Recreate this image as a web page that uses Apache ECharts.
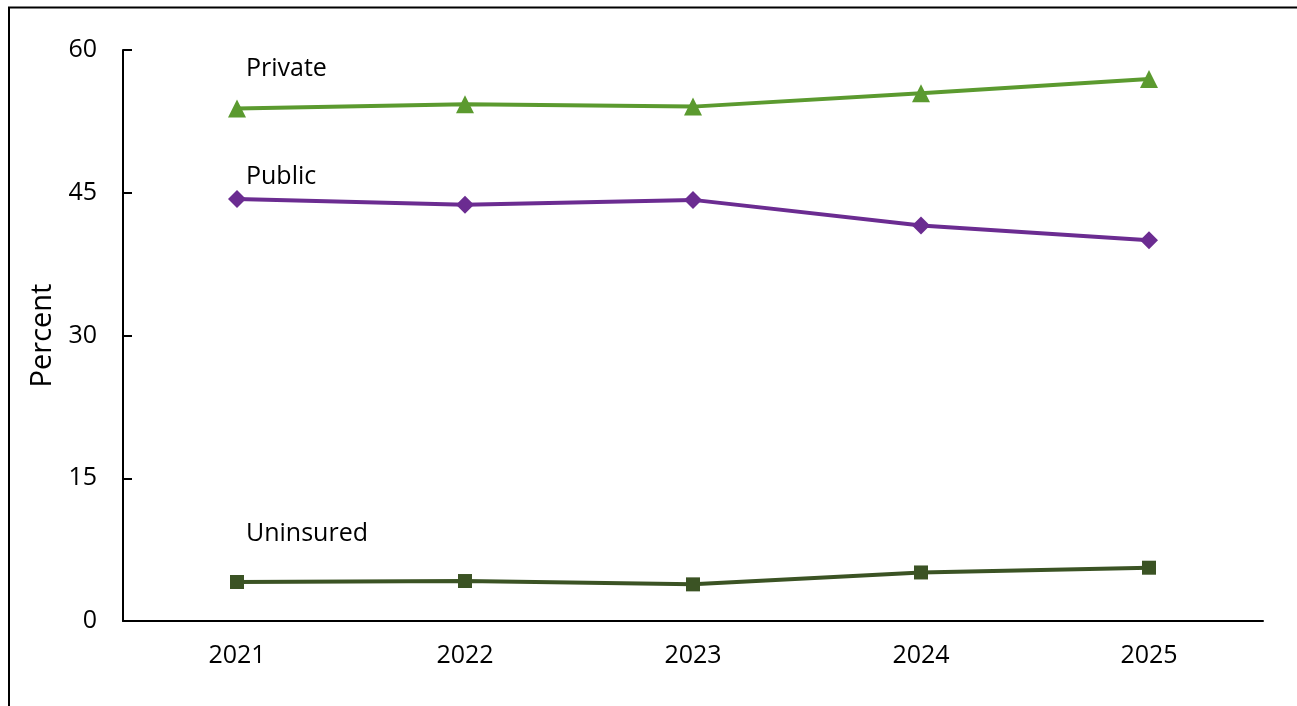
<!DOCTYPE html>
<html>
<head>
<meta charset="utf-8">
<title>Health insurance coverage, 2021–2025</title>
<script src="https://cdn.jsdelivr.net/npm/echarts@6/dist/echarts.min.js"></script>
<style>
  html, body { margin: 0; padding: 0; background: #ffffff; }
  #chart { width: 1297px; height: 706px; }
</style>
</head>
<body>
<div id="chart"></div>
<script>
// Share of people by coverage type, percent
const years = ['2021', '2022', '2023', '2024', '2025'];
const privateCoverage = [53.85, 54.3, 54.05, 55.45, 56.95];
const publicCoverage = [44.35, 43.75, 44.25, 41.55, 40.0];
const uninsured = [4.1, 4.2, 3.85, 5.1, 5.6];
const yTicks = [0, 15, 30, 45, 60];

const FONT = '"Open Sans", "Noto Sans", sans-serif';

function seriesLabel(name, offsetY, distance) {
  return {
    show: true,
    position: 'right',
    distance: distance,
    offset: [0, offsetY],
    formatter: name,
    color: '#000',
    fontFamily: FONT,
    fontSize: 25
  };
}

function buildData(values, name, offsetY, distance) {
  return values.map((v, i) => i === 0 ? { value: v, label: seriesLabel(name, offsetY, distance) } : v);
}

const chart = echarts.init(document.getElementById('chart'), null, { renderer: 'canvas' });

chart.setOption({
  animation: false,
  backgroundColor: '#ffffff',
  graphic: [
    {
      type: 'polyline',
      shape: { points: [[9, 720], [9, 7.5], [1310, 7.5]] },
      style: { stroke: '#000', lineWidth: 2, fill: null },
      silent: true
    }
  ],
  grid: { left: 123, right: 34, top: 50, bottom: 85, containLabel: false },
  xAxis: {
    type: 'category',
    data: years,
    boundaryGap: true,
    axisLine: { show: true, lineStyle: { color: '#000', width: 2 } },
    axisTick: { show: false },
    axisLabel: { color: '#000', fontFamily: FONT, fontSize: 25, margin: 22 },
    splitLine: { show: false }
  },
  yAxis: {
    type: 'value',
    min: yTicks[0],
    max: yTicks[yTicks.length - 1],
    interval: 15,
    name: 'Percent',
    nameLocation: 'middle',
    nameGap: 66,
    nameRotate: 90,
    nameTextStyle: { color: '#000', fontFamily: FONT, fontSize: 29 },
    axisLine: { show: true, lineStyle: { color: '#000', width: 2 } },
    axisTick: { show: true, inside: true, length: 9, lineStyle: { color: '#000', width: 2 } },
    axisLabel: { color: '#000', fontFamily: FONT, fontSize: 25, margin: 26 },
    splitLine: { show: false }
  },
  series: [
    {
      name: 'Private',
      type: 'line',
      data: buildData(privateCoverage, 'Private', -40, 0),
      symbol: 'triangle',
      symbolSize: 18,
      itemStyle: { color: '#5B9A2F' },
      lineStyle: { color: '#5B9A2F', width: 4 },
      z: 3
    },
    {
      name: 'Public',
      type: 'line',
      data: buildData(publicCoverage, 'Public', -22, 0),
      symbol: 'diamond',
      symbolSize: 18,
      itemStyle: { color: '#6B2C91' },
      lineStyle: { color: '#6B2C91', width: 4 },
      z: 3
    },
    {
      name: 'Uninsured',
      type: 'line',
      data: buildData(uninsured, 'Uninsured', -48, 2),
      symbol: 'rect',
      symbolSize: 14,
      itemStyle: { color: '#3B5324' },
      lineStyle: { color: '#3B5324', width: 4 },
      z: 3
    }
  ]
});
</script>
</body>
</html>
